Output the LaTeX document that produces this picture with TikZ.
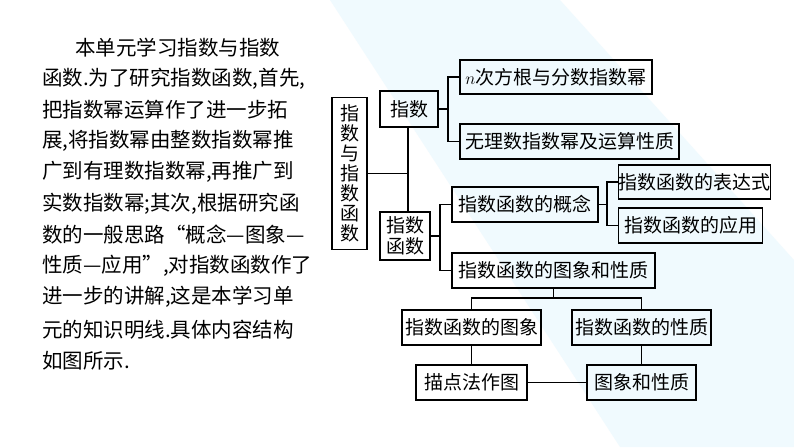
\documentclass[tikz,border=0pt]{standalone}
\usepackage{fontspec}
\setmainfont{Noto Sans CJK SC}
\usetikzlibrary{positioning}
\tikzset{
  box/.style={draw, line width=1.1pt, inner sep=0pt, font=\fontsize{19}{21}\selectfont},
  para/.style={anchor=west, inner sep=0pt, font=\fontsize{20.5}{22}\selectfont},
  link/.style={draw, line width=1.1pt}
}
\begin{document}
\begin{tikzpicture}[x=1pt,y=-1pt]
    \useasboundingbox[fill=white] (0,0) rectangle (794,447);
    \fill[cyan!6] (330,0) -- (560,0) -- (794,260) -- (794,447) -- (620,447) -- cycle;

    % paragraph
    \node[para] (p1)  at (75,48)  {本单元学习指数与指数};
    \node[para] (p2)  at (42,79)  {函数.为了研究指数函数,首先,};
    \node[para] (p3)  at (42,110) {把指数幂运算作了进一步拓};
    \node[para] (p4)  at (42,141) {展,将指数幂由整数指数幂推};
    \node[para] (p5)  at (42,172) {广到有理数指数幂,再推广到};
    \node[para] (p6)  at (42,204) {实数指数幂;其次,根据研究函};
    \node[para] (p7)  at (42,235) {数的一般思路“概念—图象—};
    \node[para] (p8)  at (42,266) {性质—应用”,对指数函数作了};
    \node[para] (p9)  at (42,297) {进一步的讲解,这是本学习单};
    \node[para] (p10) at (42,330) {元的知识明线.具体内容结构};
    \node[para] (p11) at (42,361) {如图所示.};

    % boxes
    \node[box, minimum width=35, minimum height=152, align=center, font=\fontsize{19}{20}\selectfont] (root) at (349.5,173.5) {指\\数\\与\\指\\数\\函\\数};
    \node[box, minimum width=58, minimum height=36] (zs) at (409,109) {指数};
    \node[box, minimum width=50, minimum height=48, align=center, font=\fontsize{19}{21}\selectfont] (zshs) at (405,236) {指数\\函数};
    \node[box, minimum width=192, minimum height=34] (root_n) at (556,77) {$n$次方根与分数指数幂};
    \node[box, minimum width=219, minimum height=35] (wl) at (569.5,141.5) {无理数指数幂及运算性质};
    \node[box, minimum width=146, minimum height=35] (gn) at (525,204.5) {指数函数的概念};
    \node[box, minimum width=152, minimum height=34, anchor=west] (bds) at (618,182) {指数函数的表达式};
    \node[box, minimum width=144, minimum height=35, anchor=west] (yy) at (618,225.5) {指数函数的应用};
    \node[box, minimum width=203, minimum height=35] (txxz) at (553.5,270.5) {指数函数的图象和性质};
    \node[box, minimum width=139, minimum height=35] (tx) at (471.5,327.5) {指数函数的图象};
    \node[box, minimum width=139, minimum height=35] (xz) at (641.5,327.5) {指数函数的性质};
    \node[box, minimum width=111, minimum height=35] (md) at (471.5,382.5) {描点法作图};
    \node[box, minimum width=109, minimum height=35] (tx2) at (641.5,382.5) {图象和性质};

    % connectors
    \coordinate (trunk) at (408,173.5);
    \path[link] (zs.south -| trunk) -- (zshs.north -| trunk);
    \path[link] (root.east) -- (trunk);
    \coordinate (j1) at (448,109);
    \path[link] (zs.east) -- (j1);
    \path[link] (root_n.west) -| (j1) |- (wl.west);
    \coordinate (j2) at (440,236);
    \path[link] (zshs.east) -- (j2);
    \path[link] (gn.west) -| (j2) |- (txxz.west);
    \coordinate (j3) at (607,204.5);
    \path[link] (gn.east) -- (j3);
    \path[link] (bds.west) -| (j3) |- (yy.west);
    \coordinate (j4) at (553.5,298);
    \path[link] (txxz.south) -- (j4);
    \path[link] (tx.north) |- (j4) -| (xz.north);
    \path[link] (tx.south) -- (md.north);
    \path[link] (xz.south) -- (tx2.north);
    \path[link] (md.east) -- (tx2.west);
\end{tikzpicture}
\end{document}
